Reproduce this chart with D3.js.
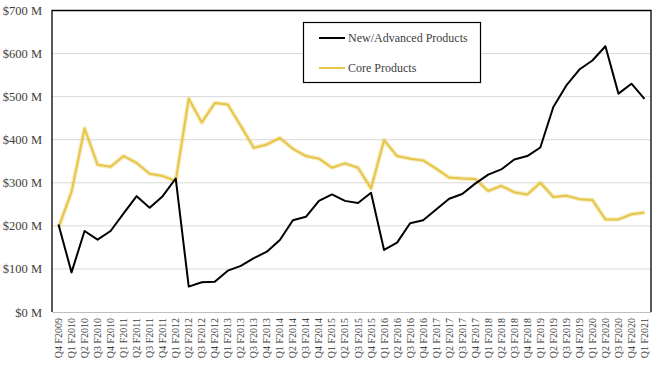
<!DOCTYPE html>
<html><head><meta charset="utf-8">
<script src="https://cdn.jsdelivr.net/npm/d3@7/dist/d3.min.js"></script>
<style>body{margin:0;background:#fff}svg{display:block}</style>
</head><body>
<script>
const quarters = ["Q4 F2009",
 "Q1 F2010","Q2 F2010","Q3 F2010","Q4 F2010",
 "Q1 F2011","Q2 F2011","Q3 F2011","Q4 F2011",
 "Q1 F2012","Q2 F2012","Q3 F2012","Q4 F2012",
 "Q1 F2013","Q2 F2013","Q3 F2013","Q4 F2013",
 "Q1 F2014","Q2 F2014","Q3 F2014","Q4 F2014",
 "Q1 F2015","Q2 F2015","Q3 F2015","Q4 F2015",
 "Q1 F2016","Q2 F2016","Q3 F2016","Q4 F2016",
 "Q1 F2017","Q2 F2017","Q3 F2017","Q4 F2017",
 "Q1 F2018","Q2 F2018","Q3 F2018","Q4 F2018",
 "Q1 F2019","Q2 F2019","Q3 F2019","Q4 F2019",
 "Q1 F2020","Q2 F2020","Q3 F2020","Q4 F2020",
 "Q1 F2021"];
const newAdvanced = [203,92,188,168,188,229,269,242,269,310,
 59,69,70,96,107,125,140,167,213,221,
 258,273,258,253,277,144,161,206,213,238,
 263,274,298,319,331,354,362,382,476,526,
 563,584,617,507,530,495];
const coreProducts = [196,279,426,342,337,362,346,321,316,304,
 495,440,485,482,432,381,389,404,379,362,
 356,335,345,335,287,399,362,356,352,333,
 312,310,309,281,293,278,273,300,267,270,
 262,260,215,215,227,231];
const yTicks = [0,100,200,300,400,500,600,700];
const seriesNames = ["New/Advanced Products","Core Products"];

const W=657,H=367;
const m={l:52,r:6,t:10.5,b:55};
const svg=d3.select("body").append("svg").attr("width",W).attr("height",H);
const x=d3.scaleBand().domain(quarters).range([m.l,W-m.r]);
const y=d3.scaleLinear().domain([0,700]).range([H-m.b,m.t]);
const font="'Liberation Serif','DejaVu Serif',serif";

// gridlines
svg.append("g").selectAll("line").data(yTicks.filter(d=>d>0&&d<700)).join("line")
 .attr("x1",m.l).attr("x2",W-m.r).attr("y1",d=>y(d)).attr("y2",d=>y(d))
 .attr("stroke","#d9d9d9").attr("stroke-width",1);

// y axis labels
const ya=svg.append("g").attr("transform",`translate(${m.l},0)`)
 .call(d3.axisLeft(y).tickValues(yTicks).tickSize(0).tickPadding(10).tickFormat(d=>"$"+d+" M"));
ya.select(".domain").remove();
ya.selectAll("text").attr("font-family",font).attr("font-size",12.5).attr("fill","#404040");

// x axis
const xa=svg.append("g").attr("transform",`translate(0,${y(0)})`)
 .call(d3.axisBottom(x).tickSize(0).tickPadding(6));
xa.select(".domain").attr("stroke","#bfbfbf");
xa.selectAll("text").attr("font-family",font).attr("font-size",10).attr("fill","#404040")
 .attr("text-anchor","end").attr("dy","0.35em")
 .attr("transform","rotate(-90)").attr("x",-6).attr("y",0);

// frame
svg.append("path").attr("d",`M${m.l},${y(0)}V${y(700)}H${W-m.r}V${y(0)}`)
 .attr("fill","none").attr("stroke","#000").attr("stroke-width",1.3);

const line=d3.line().x((d,i)=>x(quarters[i])+x.bandwidth()/2).y(d=>y(d));
const yellow="#E6C548";
svg.append("path").datum(coreProducts).attr("d",line).attr("fill","none")
 .attr("stroke",yellow).attr("stroke-opacity",0.35).attr("stroke-width",4.5).attr("stroke-linejoin","round");
svg.append("path").datum(coreProducts).attr("d",line).attr("fill","none")
 .attr("stroke",yellow).attr("stroke-width",2).attr("stroke-linejoin","round");
svg.append("path").datum(newAdvanced).attr("d",line).attr("fill","none")
 .attr("stroke","#000").attr("stroke-width",2).attr("stroke-linejoin","round");

// legend
const lg=svg.append("g");
lg.append("rect").attr("x",303.5).attr("y",22.5).attr("width",177).attr("height",60)
 .attr("fill","#fff").attr("stroke","#000").attr("stroke-width",1.2);
const colors=["#000",yellow];
seriesNames.forEach((n,i)=>{
 const ly=38+i*30;
 lg.append("line").attr("x1",319).attr("x2",345).attr("y1",ly).attr("y2",ly)
  .attr("stroke",colors[i]).attr("stroke-width",2);
 lg.append("text").attr("x",348).attr("y",ly).attr("dy","0.32em")
  .attr("font-family",font).attr("font-size",12).attr("fill","#404040").text(n);
});
</script>
</body></html>
